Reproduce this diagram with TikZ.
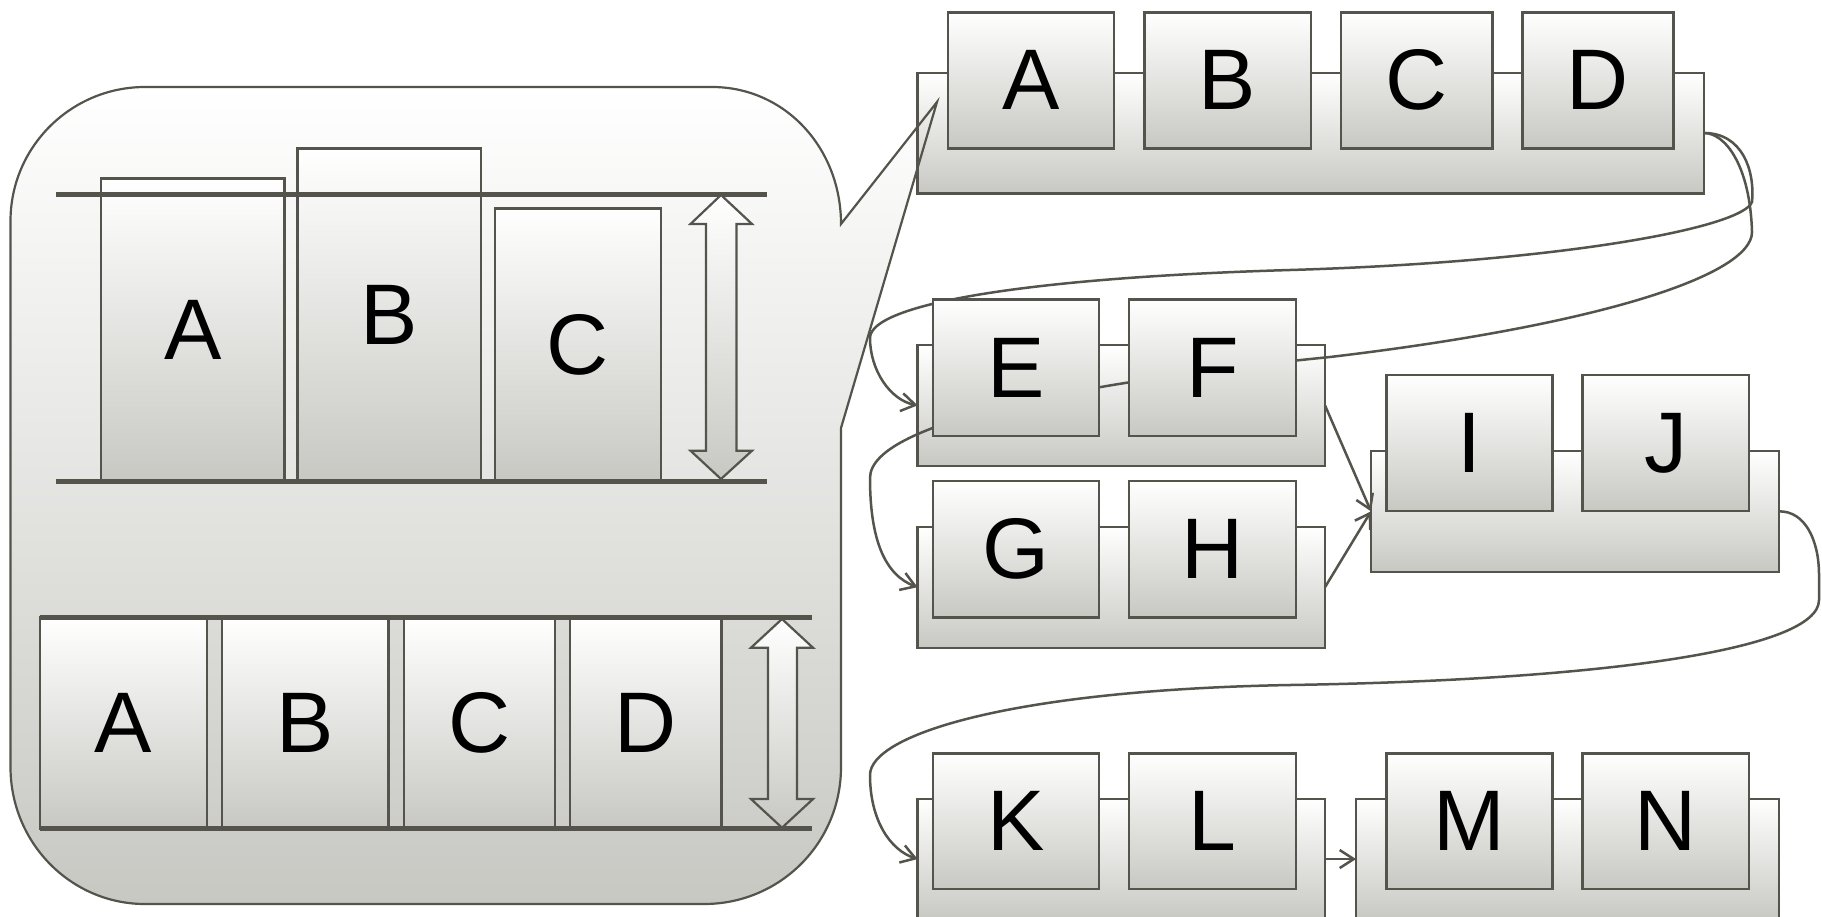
\documentclass[tikz,border=0pt]{standalone}
\usepackage{fontspec}
\setmainfont{Liberation Sans}
\usetikzlibrary{arrows.meta}
\definecolor{ln}{RGB}{84,84,76}
\definecolor{gr}{RGB}{200,200,195}
\newcommand\bigletters{\fontsize{86}{86}\selectfont}
\tikzset{
  box/.style={draw=ln, line width=2.4pt, top color=white, bottom color=gr, inner sep=0pt, outer sep=0pt, font=\bigletters, text=black},
  panel/.style={draw=ln, line width=2.4pt, top color=white, bottom color=gr, inner sep=0pt, outer sep=0pt},
  shelf/.style={draw=ln, line width=5pt},
  blockarrow/.style={draw=ln, line width=2.2pt, top color=white, bottom color=gr},
  conn/.style={draw=ln, line width=2.5pt, -{Straight Barb[length=14pt,width=18pt]}},
  outline/.style={draw=ln, line width=2.2pt},
}
\begin{document}
\begin{tikzpicture}[x=1pt,y=-1pt]
\useasboundingbox[fill=white] (0,0) rectangle (1822,916);

% ---- callout fill ----
\path[top color=white, bottom color=gr]
  (10.5,221) .. controls (10.5,147) and (71,87) .. (145,87) -- (712,87)
  .. controls (785,87) and (841,148) .. (841,224) -- (937,102) -- (841,428)
  -- (841,767) .. controls (841,843) and (780,904) .. (704,904) -- (145,904)
  .. controls (71,904) and (10.5,843) .. (10.5,767) -- cycle;

% ---- top left: uneven heights ----
\node[box, minimum width=183.5pt, minimum height=302.5pt] (la) at (192.75,329.75) {A};
\node[box, minimum width=183.5pt, minimum height=332.5pt] (lb) at (389.25,314.75) {B};
\node[box, minimum width=166pt, minimum height=272.5pt] (lc) at (578,344.75) {C};
\draw[shelf] (56,194) -- (767,194);
\draw[shelf] (56,481) -- (767,481);
\path[blockarrow] (721,195) -- (752,224) -- (736.5,224) -- (736.5,450.7) -- (752,450.7)
  -- (721,479) -- (690.5,450.7) -- (706,450.7) -- (706,224) -- (690.5,224) -- cycle;

% ---- bottom left: even heights ----
\node[box, minimum width=167pt, minimum height=211.7pt] (ma) at (123.5,722.85) {A};
\node[box, minimum width=166.6pt, minimum height=211.7pt] (mb) at (305.3,722.85) {B};
\node[box, minimum width=151pt, minimum height=211.7pt] (mc) at (479.5,722.85) {C};
\node[box, minimum width=151.6pt, minimum height=211.7pt] (md) at (645.8,722.85) {D};
\draw[shelf] (40,617) -- (812,617);
\draw[shelf] (40,828.7) -- (812,828.7);
\path[blockarrow] (782,619) -- (813,647.7) -- (797,647.7) -- (797,799) -- (813,799)
  -- (782,827.7) -- (751,799) -- (768,799) -- (768,647.7) -- (751,647.7) -- cycle;

% ---- right: back panels ----
\node[panel, minimum width=786.4pt, minimum height=120.6pt] (row1) at (1310.8,133) {};
\node[panel, minimum width=407.4pt, minimum height=120.7pt] (rowE) at (1121.3,405.35) {};
\node[panel, minimum width=407.4pt, minimum height=121pt] (rowG) at (1121.3,587.2) {};
\node[panel, minimum width=408pt, minimum height=120.7pt] (rowI) at (1575,511.35) {};
\node[panel, minimum width=407.4pt, minimum height=120.7pt] (rowK) at (1121.3,859.05) {};
\node[panel, minimum width=423pt, minimum height=120.7pt] (rowM) at (1567.5,859.05) {};

% ---- callout outline ----
\draw[outline]
  (10.5,221) .. controls (10.5,147) and (71,87) .. (145,87) -- (712,87)
  .. controls (785,87) and (841,148) .. (841,224) -- (937,102) -- (841,428)
  -- (841,767) .. controls (841,843) and (780,904) .. (704,904) -- (145,904)
  .. controls (71,904) and (10.5,843) .. (10.5,767) -- cycle;

% ---- connectors ----
\draw[conn] (row1.east) .. controls (1742,133) and (1755,170) .. (1752,202)
  .. controls (1742,228) and (1560,262) .. (1290,270)
  .. controls (1020,278) and (870,305) .. (870,338)
  .. controls (870,370) and (890,400) .. (rowE.west);
\draw[conn] (row1.east) .. controls (1725,133) and (1750,165) .. (1752,232)
  .. controls (1752,275) and (1600,325) .. (1330,357)
  .. controls (1100,380) and (870,420) .. (870,478)
  .. controls (870,540) and (885,575) .. (rowG.west);
\draw[conn] (rowE.east) -- (rowI.west);
\draw[conn] (rowG.east) -- (rowI.west);
\draw[conn] (rowI.east) .. controls (1805,511) and (1819,540) .. (1819,575) -- (1819,600)
  .. controls (1819,650) and (1600,680) .. (1290,685)
  .. controls (1010,690) and (870,735) .. (870,775)
  .. controls (870,820) and (890,850) .. (rowK.west);
\draw[conn] (rowK.east) -- (rowM.west);

% ---- right: front boxes ----
\node[box, minimum width=166.3pt, minimum height=136pt] (ra) at (1030.85,80.3) {A};
\node[box, minimum width=166.7pt, minimum height=136pt] (rb) at (1227.65,80.3) {B};
\node[box, minimum width=151.5pt, minimum height=136pt] (rc) at (1416.75,80.3) {C};
\node[box, minimum width=150.9pt, minimum height=136pt] (rd) at (1597.95,80.3) {D};
\node[box, minimum width=166.3pt, minimum height=136.4pt] (re) at (1015.85,367.5) {E};
\node[box, minimum width=167pt, minimum height=136.4pt] (rf) at (1212.5,367.5) {F};
\node[box, minimum width=166.3pt, minimum height=136.3pt] (rg) at (1015.85,549.15) {G};
\node[box, minimum width=167pt, minimum height=136.3pt] (rh) at (1212.5,549.15) {H};
\node[box, minimum width=166pt, minimum height=136pt] (ri) at (1469.6,443) {I};
\node[box, minimum width=166.4pt, minimum height=136pt] (rj) at (1665.8,443) {J};
\node[box, minimum width=166.3pt, minimum height=135.7pt] (rk) at (1015.85,821.15) {K};
\node[box, minimum width=167pt, minimum height=135.7pt] (rl) at (1212.5,821.15) {L};
\node[box, minimum width=166pt, minimum height=135.7pt] (rm) at (1469.6,821.15) {M};
\node[box, minimum width=166.4pt, minimum height=135.7pt] (rn) at (1665.8,821.15) {N};
\end{tikzpicture}
\end{document}
